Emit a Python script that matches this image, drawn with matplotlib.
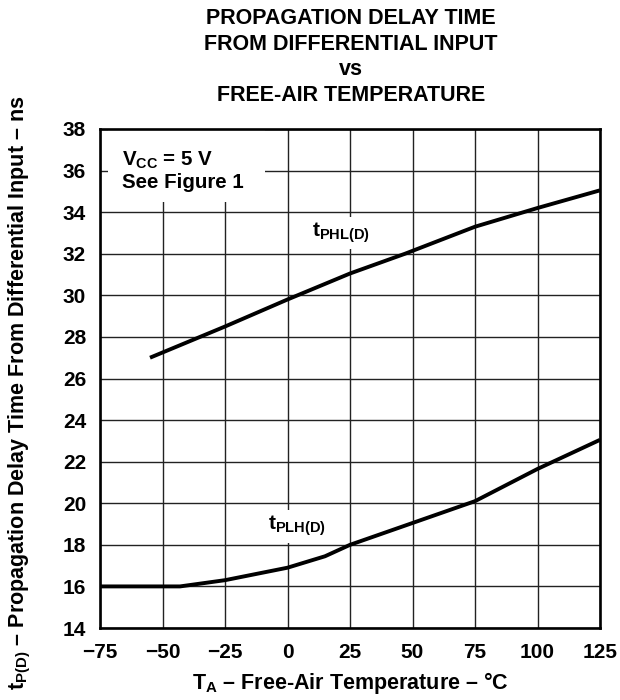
import numpy as np
import matplotlib as mpl
mpl.use('Agg')
import matplotlib.pyplot as plt
from matplotlib.patches import Rectangle

plt.rcParams['font.family'] = ['Liberation Sans', 'DejaVu Sans']
plt.rcParams['font.weight'] = 'bold'
plt.rcParams['mathtext.fontset'] = 'custom'
plt.rcParams['mathtext.rm'] = 'Liberation Sans:bold'
plt.rcParams['mathtext.it'] = 'Liberation Sans:bold'
plt.rcParams['mathtext.bf'] = 'Liberation Sans:bold'

# curves
t_phl = [-55, -25, 0, 25, 47, 75, 100, 125]
d_phl = [27.0, 28.5, 29.8, 31.05, 32.0, 33.3, 34.2, 35.05]

t_plh = [-75, -43, -25, 0, 15, 25, 50, 75, 100, 125]
d_plh = [16.0, 16.0, 16.3, 16.9, 17.45, 18.0, 19.05, 20.1, 21.65, 23.05]

xticks = [-75, -50, -25, 0, 25, 50, 75, 100, 125]
xticklabels = ['\u221275', '\u221250', '\u221225', '0', '25', '50', '75', '100', '125']
yticks = list(range(14, 39, 2))

fig = plt.figure(figsize=(6.2, 7.0), dpi=100)
ax = fig.add_axes([100/620, 72/700, 500/620, 499/700])

ax.plot(t_phl, d_phl, '-', c='k', lw=2.8, solid_capstyle='butt', zorder=2)
ax.plot(t_plh, d_plh, '-', c='k', lw=2.8, solid_capstyle='butt', zorder=2)

ax.set_xlim(-75, 125)
ax.set_ylim(14, 38)
ax.set_xticks(xticks)
ax.set_xticklabels(xticklabels)
ax.set_yticks(yticks)
ax.tick_params(length=0, labelsize=15)
ax.tick_params(axis='y', pad=10)
ax.tick_params(axis='x', pad=11)
ax.set_axisbelow(True)
ax.grid(True, color='#222222', lw=1.0)
for sp in ax.spines.values():
    sp.set_linewidth(1.9)
    sp.set_zorder(5)

# white patch behind the conditions note (grid is cut there)
ax.add_patch(Rectangle((0.016, 0.854), 0.314, 0.146, transform=ax.transAxes,
                       fc='white', ec='none', zorder=1.5))
ax.text(-66, 36.0, 'V$_{\\mathrm{CC}}$ = 5 V\nSee Figure 1', fontsize=14.8,
        fontweight='bold', ha='left', va='center', linespacing=1.15, zorder=3)

box = dict(fc='white', ec='none', pad=3)
ax.text(21.4, 33.0, 't$_{\\mathrm{PHL(D)}}$', fontsize=15, ha='center',
        va='center', bbox=box, zorder=3)
ax.text(3.8, 18.9, 't$_{\\mathrm{PLH(D)}}$', fontsize=15, ha='center',
        va='center', bbox=box, zorder=3)

fig.text(351/620, 1 - 57/700,
         'PROPAGATION DELAY TIME\nFROM DIFFERENTIAL INPUT\nvs\nFREE-AIR TEMPERATURE',
         ha='center', va='center', fontsize=15.5, fontweight='bold', linespacing=1.3)
fig.text(350/620, 1 - 683/700, 'T$_{\\mathrm{A}}$ \u2013 Free-Air Temperature \u2013 \u00b0C',
         ha='center', va='center', fontsize=15.5, fontweight='bold')
fig.text(20/620, 1 - 393/700,
         't$_{\\mathrm{P(D)}}$ \u2013 Propagation Delay Time From Differential Input \u2013 ns',
         ha='center', va='center', rotation=90, fontsize=15.5, fontweight='bold')

fig.savefig('out.png', dpi=100)
